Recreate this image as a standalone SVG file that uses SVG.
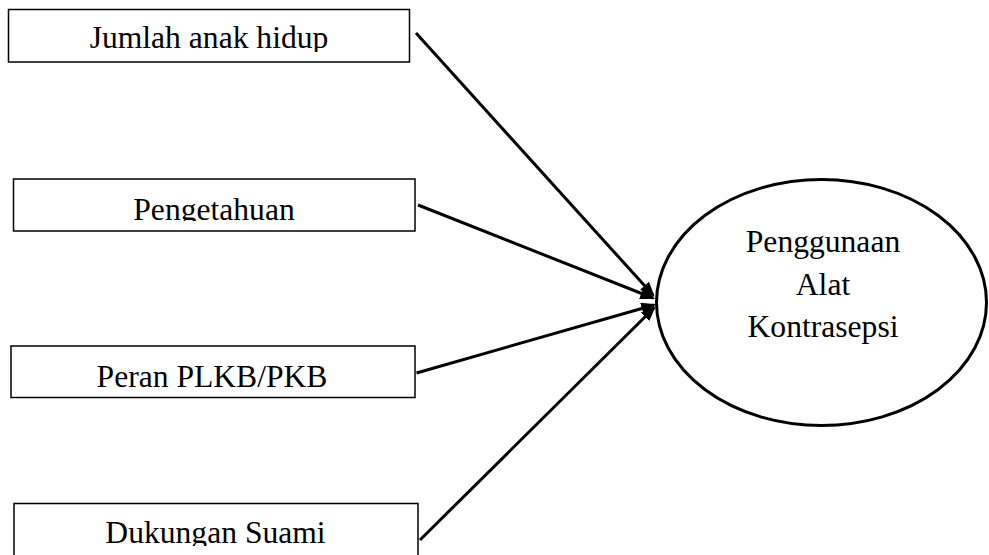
<svg xmlns="http://www.w3.org/2000/svg" width="989" height="555" viewBox="0 0 989 555">
  <style>
    .box { fill: #ffffff; stroke: #000000; stroke-width: 1.5; }
    .lbl { font-family: "Liberation Serif", "Times New Roman", serif; font-size: 31.6px; fill: #000000; text-anchor: middle; }
    .conn { stroke: #000000; stroke-width: 3; fill: none; marker-end: url(#arrow); }
    .ell { fill: #ffffff; stroke: #000000; stroke-width: 3; }
  </style>
  <defs>
    <marker id="arrow" markerWidth="5" markerHeight="4" refX="4.2" refY="2" orient="auto" markerUnits="strokeWidth">
      <path d="M0,0 L5,2 L0,4 Z" fill="#000000"/>
    </marker>
    <clipPath id="c1"><rect x="8" y="9" width="402" height="43"/></clipPath>
    <clipPath id="c2"><rect x="13" y="178" width="402" height="43"/></clipPath>
    <clipPath id="c3"><rect x="10" y="345" width="406" height="52"/></clipPath>
    <clipPath id="c4"><rect x="13" y="502" width="406" height="44"/></clipPath>
  </defs>

  <rect width="989" height="555" fill="#ffffff"/>

  <g id="connectors">
    <line class="conn" x1="416" y1="33" x2="653" y2="295"/>
    <line class="conn" x1="418" y1="205" x2="653" y2="298"/>
    <line class="conn" x1="416.5" y1="373" x2="654" y2="305"/>
    <line class="conn" x1="420" y1="540" x2="654" y2="308"/>
  </g>

  <g id="node-jumlah">
    <rect class="box" x="8.5" y="9.5" width="401" height="52.5"/>
    <text class="lbl" x="209" y="47.5" clip-path="url(#c1)">Jumlah anak hidup</text>
  </g>

  <g id="node-pengetahuan">
    <rect class="box" x="13.5" y="179" width="401.5" height="52"/>
    <text class="lbl" x="214" y="219.5" clip-path="url(#c2)">Pengetahuan</text>
  </g>

  <g id="node-peran">
    <rect class="box" x="11" y="346" width="404" height="51.5"/>
    <text class="lbl" x="212" y="387" clip-path="url(#c3)">Peran PLKB/PKB</text>
  </g>

  <g id="node-dukungan">
    <rect class="box" x="14" y="503.5" width="404" height="54"/>
    <text class="lbl" x="215.5" y="542.5" clip-path="url(#c4)">Dukungan Suami</text>
  </g>

  <g id="node-penggunaan">
    <ellipse class="ell" cx="821.5" cy="302.5" rx="165" ry="123"/>
    <text class="lbl" x="823" y="252">Penggunaan</text>
    <text class="lbl" x="823" y="294.5">Alat</text>
    <text class="lbl" x="823" y="337">Kontrasepsi</text>
  </g>
</svg>
